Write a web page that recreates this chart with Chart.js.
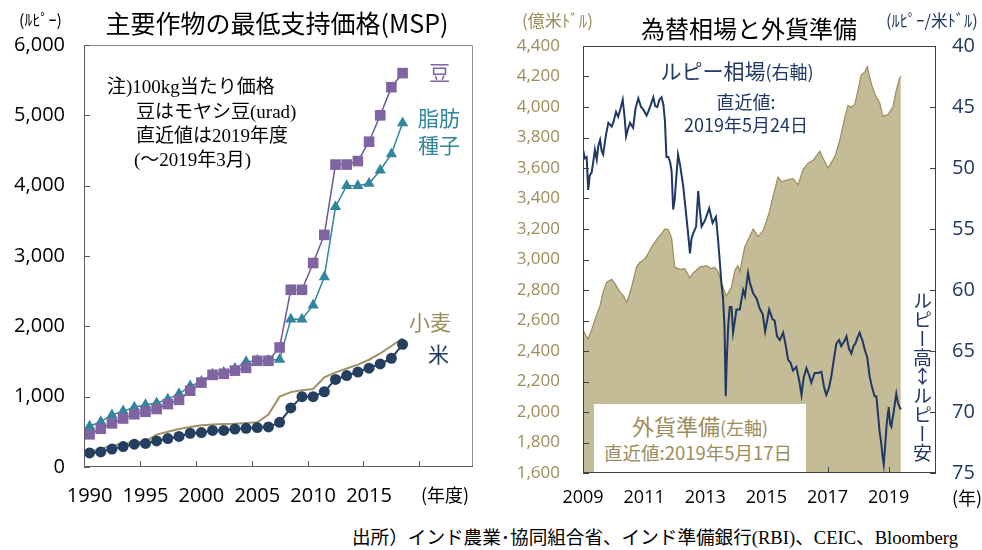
<!DOCTYPE html>
<html lang="ja">
<head>
<meta charset="utf-8">
<script src="https://cdn.jsdelivr.net/npm/chart.js@4/dist/chart.umd.min.js"></script>
<style>
  body { margin: 0; width: 982px; height: 550px; background: #fff; position: relative; overflow: hidden;
    font-family: 'Noto Sans CJK JP', sans-serif; }
  .box { position: absolute; }
  .t { position: absolute; white-space: nowrap; line-height: 1; }
  .c { transform: translateX(-50%); text-align: center; }
  .serif { font-family: 'Liberation Serif', 'Noto Sans CJK JP', serif; }
  .navy { color: #1f3864; }
  .tan { color: #9c8c5a; }
</style>
</head>
<body>
<div class="box" style="left:0;top:0;width:490px;height:520px"><canvas id="msp"></canvas></div>
<div class="box" style="left:490px;top:0;width:492px;height:520px"><canvas id="fx"></canvas></div>

<!-- 左パネル -->
<div class="t" style="left:19px;top:11px;font-size:16px">(ﾙﾋﾟｰ)</div>
<div class="t c" style="left:277px;top:10px;font-size:25px">主要作物の最低支持価格(MSP)</div>
<div class="t serif" style="left:107px;top:77px;font-size:19px">注)100kg当たり価格</div>
<div class="t serif" style="left:136px;top:102px;font-size:19px">豆はモヤシ豆(urad)</div>
<div class="t serif" style="left:136px;top:126px;font-size:19px">直近値は2019年度</div>
<div class="t serif" style="left:134px;top:150px;font-size:19px">(～2019年3月)</div>
<div class="t" style="left:429px;top:61px;font-size:21px;color:#8064a2">豆</div>
<div class="t" style="left:418px;top:104px;font-size:21px;line-height:27px;color:#31859c">脂肪<br>種子</div>
<div class="t" style="left:409px;top:311px;font-size:21px;color:#9c8c5a">小麦</div>
<div class="t" style="left:428px;top:343px;font-size:21px;color:#1f3864">米</div>
<div class="t" style="left:421px;top:485px;font-size:18px">(年度)</div>

<!-- 右パネル -->
<div class="t tan" style="left:522px;top:11px;font-size:17px">(億米ﾄﾞﾙ)</div>
<div class="t c" style="left:749px;top:16px;font-size:24px">為替相場と外貨準備</div>
<div class="t navy" style="left:886px;top:12px;font-size:16.5px">(ﾙﾋﾟｰ/米ﾄﾞﾙ)</div>
<div class="t c navy" style="left:737px;top:60px;font-size:21px">ルピー相場<span style="font-size:18px">(右軸)</span></div>
<div class="t c navy" style="left:746px;top:90px;font-size:18px;line-height:23px">直近値:<br>2019年5月24日</div>
<div class="t" style="left:594px;top:404px;width:212px;height:68px;background:#fff"></div>
<div class="t c tan" style="left:700px;top:414px;font-size:22px">外貨準備<span style="font-size:18px">(左軸)</span></div>
<div class="t c tan" style="left:698px;top:443px;font-size:18.5px">直近値:2019年5月17日</div>
<div class="t navy" style="left:913px;top:291px;font-size:19px;writing-mode:vertical-rl;text-orientation:upright;line-height:1">ルピー高↕ルピー安</div>
<div class="t" style="left:952px;top:488px;font-size:18px">(年)</div>

<div class="t serif" style="left:352px;top:529px;font-size:18.6px">出所）インド農業･協同組合省、インド準備銀行(RBI)、CEIC、Bloomberg</div>

<script>
// 主要作物の最低支持価格（ルピー/100kg）
const mspYears = [1990, 1991, 1992, 1993, 1994, 1995, 1996, 1997, 1998, 1999,
  2000, 2001, 2002, 2003, 2004, 2005, 2006, 2007, 2008, 2009,
  2010, 2011, 2012, 2013, 2014, 2015, 2016, 2017, 2018];
const bean = [465, 545, 620, 690, 750, 785, 825, 895, 955, 1085,
  1200, 1310, 1325, 1370, 1410, 1510, 1510, 1700, 2520, 2520,
  2900, 3300, 4300, 4300, 4350, 4625, 5000, 5400, 5600];
const oilseed = [580, 645, 740, 795, 850, 885, 910, 965, 1040, 1150,
  1215, 1320, 1345, 1400, 1495, 1515, 1515, 1530, 2100, 2100,
  2300, 2700, 3700, 4000, 4000, 4030, 4220, 4450, 4890];
const wheat = [215, 255, 305, 330, 350, 365, 460, 500, 540, 570,
  595, 605, 610, 615, 625, 635, 745, 1000, 1065, 1090,
  1110, 1275, 1345, 1400, 1455, 1525, 1615, 1720, 1830];
const rice = [200, 215, 255, 290, 325, 335, 370, 405, 435, 480,
  490, 520, 520, 540, 550, 560, 570, 635, 840, 1000,
  1000, 1070, 1245, 1300, 1350, 1405, 1465, 1545, 1745];
const mspYearLabels = [1990, 1995, 2000, 2005, 2010, 2015];
const mspYearMarks = [1994.5, 1999.5, 2004.5, 2009.5, 2014.5, 2019.5];

// 外貨準備（億米ドル、左軸）
const reserveDates = [2009.0, 2009.1, 2009.17, 2009.3, 2009.45, 2009.55, 2009.65, 2009.77, 2009.94, 2010.05,
  2010.2, 2010.33, 2010.43, 2010.55, 2010.64, 2010.75, 2010.86, 2011.0, 2011.08, 2011.24,
  2011.41, 2011.57, 2011.68, 2011.79, 2011.9, 2012.0, 2012.17, 2012.33, 2012.5, 2012.6,
  2012.82, 2013.04, 2013.2, 2013.31, 2013.42, 2013.58, 2013.69, 2013.86, 2013.97, 2014.07,
  2014.13, 2014.29, 2014.4, 2014.57, 2014.73, 2014.89, 2015.0, 2015.11, 2015.2, 2015.38,
  2015.5, 2015.66, 2015.87, 2016.04, 2016.2, 2016.36, 2016.53, 2016.75, 2016.85, 2017.02,
  2017.24, 2017.4, 2017.56, 2017.67, 2017.78, 2017.89, 2018.0, 2018.1, 2018.22, 2018.3,
  2018.43, 2018.54, 2018.71, 2018.81, 2018.98, 2019.14, 2019.25, 2019.36, 2019.4];
const reserves = [2540, 2500, 2480, 2550, 2640, 2690, 2780, 2850, 2870, 2840,
  2790, 2760, 2720, 2790, 2860, 2950, 2980, 3000, 3020, 3080,
  3130, 3170, 3200, 3195, 3140, 2950, 2935, 2940, 2880, 2910,
  2950, 2960, 2940, 2950, 2920, 2820, 2760, 2820, 2930, 2960,
  2920, 3080, 3130, 3200, 3150, 3190, 3250, 3320, 3400, 3540,
  3510, 3520, 3530, 3490, 3590, 3630, 3650, 3710, 3665, 3600,
  3675, 3780, 3925, 4010, 4000, 4015, 4110, 4210, 4230, 4265,
  4155, 4090, 4025, 3940, 3950, 4000, 4110, 4190, 4200];

// ルピー相場（ルピー/米ドル、右軸）
const rupeeDates = [2009.0, 2009.06, 2009.12, 2009.17, 2009.22, 2009.28, 2009.33, 2009.39, 2009.45, 2009.5,
  2009.56, 2009.61, 2009.66, 2009.75, 2009.83, 2009.94, 2010.0, 2010.08, 2010.15, 2010.22,
  2010.3, 2010.36, 2010.41, 2010.47, 2010.54, 2010.64, 2010.72, 2010.81, 2010.9, 2010.97,
  2011.08, 2011.15, 2011.22, 2011.3, 2011.36, 2011.43, 2011.5, 2011.57, 2011.63, 2011.68,
  2011.73, 2011.79, 2011.85, 2011.9, 2011.95, 2012.0, 2012.06, 2012.11, 2012.18, 2012.28,
  2012.35, 2012.44, 2012.5, 2012.55, 2012.6, 2012.7, 2012.77, 2012.82, 2012.88, 2012.99,
  2013.06, 2013.13, 2013.24, 2013.35, 2013.42, 2013.48, 2013.53, 2013.58, 2013.63, 2013.67,
  2013.7, 2013.75, 2013.8, 2013.86, 2013.91, 2013.97, 2014.02, 2014.13, 2014.24, 2014.3,
  2014.4, 2014.47, 2014.57, 2014.68, 2014.78, 2014.88, 2014.96, 2015.09, 2015.2, 2015.27,
  2015.35, 2015.44, 2015.55, 2015.63, 2015.71, 2015.8, 2015.87, 2015.98, 2016.08, 2016.15,
  2016.22, 2016.31, 2016.4, 2016.47, 2016.58, 2016.69, 2016.8, 2016.89, 2016.96, 2017.05,
  2017.13, 2017.2, 2017.29, 2017.38, 2017.45, 2017.55, 2017.62, 2017.7, 2017.78, 2017.85,
  2017.91, 2017.98, 2018.05, 2018.15, 2018.22, 2018.3, 2018.38, 2018.46, 2018.54, 2018.6,
  2018.65, 2018.7, 2018.76, 2018.8, 2018.84, 2018.88, 2018.93, 2018.98, 2019.0, 2019.05,
  2019.09, 2019.13, 2019.16, 2019.22, 2019.25, 2019.3, 2019.36, 2019.4];
const rupee = [48.5, 49.2, 49.1, 51.8, 50.6, 50.4, 49.6, 48.5, 49.3, 48.2,
  47.7, 48.6, 48.9, 47.3, 46.3, 46.6, 46.2, 45.4, 45.8, 45.2,
  44.4, 45.8, 47.4, 46.8, 46.3, 46.7, 45.1, 44.3, 45.0, 45.2,
  45.7, 45.3, 44.8, 44.2, 44.9, 45.0, 44.4, 44.2, 44.8, 46.1,
  49.1, 49.1, 49.5, 50.3, 53.4, 52.6, 50.5, 48.9, 49.8, 51.5,
  53.2, 55.4, 57.0, 55.8, 55.4, 54.8, 51.9, 53.4, 54.8, 54.3,
  53.8, 53.3, 54.5, 54.0, 55.9, 57.8, 59.5, 60.6, 63.0, 68.7,
  66.0, 63.0, 61.4, 61.4, 63.5, 62.5, 61.6, 61.6, 60.0, 60.5,
  58.6, 59.5, 60.3, 60.7, 61.5, 62.0, 63.4, 61.6, 62.4, 62.5,
  63.8, 64.1, 63.5, 64.5, 65.7, 66.0, 66.6, 66.3, 67.5, 68.6,
  67.2, 66.4, 67.0, 67.6, 66.8, 66.8, 66.7, 68.0, 68.6, 68.0,
  67.0, 65.8, 64.4, 64.1, 64.6, 64.2, 63.8, 64.8, 65.2, 64.6,
  64.4, 63.9, 63.5, 64.2, 64.9, 65.5, 67.1, 68.0, 68.7, 68.7,
  70.1, 71.5, 72.6, 73.6, 74.3, 73.0, 71.2, 70.0, 69.6, 71.0,
  71.2, 70.5, 70.1, 69.0, 68.5, 69.2, 69.6, 69.8];
const fxYearLabels = [2009, 2011, 2013, 2015, 2017, 2019];

Chart.defaults.font.family = "'Open Sans', 'Noto Sans CJK JP', sans-serif";
Chart.defaults.animation = false;

// 枠と内向きの目盛り
const frameTicks = {
  id: 'frameTicks',
  afterDatasetsDraw(chart, args, opts) {
    const { ctx, chartArea: a, scales } = chart;
    ctx.save();
    ctx.lineWidth = 1;
    ctx.strokeStyle = opts.frame;
    ctx.beginPath();
    ctx.moveTo(a.left, a.top + 0.5);
    ctx.lineTo(a.right - 0.5, a.top + 0.5);
    ctx.lineTo(a.right - 0.5, a.bottom);
    ctx.stroke();
    ctx.strokeStyle = opts.axis;
    ctx.beginPath();
    ctx.moveTo(a.left + 0.5, a.top);
    ctx.lineTo(a.left + 0.5, a.bottom - 0.5);
    ctx.lineTo(a.right, a.bottom - 0.5);
    const len = 6;
    (opts.xMarks || []).forEach((v) => {
      const px = Math.round(scales.x.getPixelForValue(v)) + 0.5;
      ctx.moveTo(px, a.bottom);
      ctx.lineTo(px, a.bottom - len);
    });
    scales.y.ticks.forEach((t) => {
      const py = Math.round(scales.y.getPixelForValue(t.value)) + 0.5;
      ctx.moveTo(a.left, py);
      ctx.lineTo(a.left + len, py);
    });
    if (scales.y2) {
      scales.y2.ticks.forEach((t) => {
        const py = Math.round(scales.y2.getPixelForValue(t.value)) + 0.5;
        ctx.moveTo(a.right, py);
        ctx.lineTo(a.right - len, py);
      });
    }
    ctx.stroke();
    ctx.restore();
  },
};

const toPoints = (xs, ys) => xs.map((x, i) => ({ x: x, y: ys[i] }));

new Chart(document.getElementById('msp'), {
  type: 'line',
  data: {
    datasets: [
      {
        label: '豆',
        data: toPoints(mspYears, bean),
        borderColor: '#6f569a',
        backgroundColor: '#8064a2',
        borderWidth: 1.5,
        pointStyle: 'rect',
        pointRadius: 7.5,
        pointBorderWidth: 0,
      },
      {
        label: '脂肪種子',
        data: toPoints(mspYears, oilseed),
        borderColor: '#31859c',
        backgroundColor: '#31859c',
        borderWidth: 1.5,
        pointStyle: 'triangle',
        pointRadius: 6.5,
        pointBorderWidth: 0,
      },
      {
        label: '米',
        data: toPoints(mspYears, rice),
        borderColor: '#243f60',
        backgroundColor: '#243f60',
        borderWidth: 2,
        pointStyle: 'circle',
        pointRadius: 5.5,
        pointBorderWidth: 0,
      },
      {
        label: '小麦',
        data: toPoints(mspYears, wheat),
        borderColor: '#a09266',
        borderWidth: 2,
        pointRadius: 0,
      },
    ],
  },
  options: {
    responsive: true,
    maintainAspectRatio: false,
    layout: { padding: { left: 0, right: 17, top: 45, bottom: 13 } },
    scales: {
      x: {
        type: 'linear',
        min: 1989.5,
        max: 2024.3,
        afterBuildTicks: (scale) => {
          scale.ticks = mspYearLabels.map((v) => ({ value: v }));
        },
        afterFit: (scale) => { scale.height = 40; },
        grid: { display: false, drawTicks: false },
        border: { display: false },
        ticks: { color: '#000', font: { size: 20 }, padding: 17, maxRotation: 0, callback: (v) => String(v) },
      },
      y: {
        min: 0,
        max: 6000,
        afterFit: (scale) => { scale.width = 84; },
        grid: { display: false, drawTicks: false },
        border: { display: false },
        ticks: { stepSize: 1000, color: '#000', font: { size: 20 }, padding: 19,
          callback: (v) => v.toLocaleString('en-US') },
      },
    },
    plugins: {
      legend: { display: false },
      tooltip: { enabled: false },
      frameTicks: { frame: '#8c8c8c', axis: '#595959', xMarks: mspYearMarks },
    },
  },
  plugins: [frameTicks],
});

new Chart(document.getElementById('fx'), {
  type: 'line',
  data: {
    datasets: [
      {
        label: 'ルピー相場(右軸)',
        data: toPoints(rupeeDates, rupee),
        yAxisID: 'y2',
        borderColor: '#1f3864',
        borderWidth: 2,
        pointRadius: 0,
      },
      {
        label: '外貨準備(左軸)',
        data: toPoints(reserveDates, reserves),
        yAxisID: 'y',
        borderColor: '#9c8c5a',
        backgroundColor: '#c4bb97',
        borderWidth: 1.2,
        pointRadius: 0,
        fill: 'start',
      },
    ],
  },
  options: {
    responsive: true,
    maintainAspectRatio: false,
    layout: { padding: { left: 0, right: 0, top: 46, bottom: 7 } },
    scales: {
      x: {
        type: 'linear',
        min: 2009,
        max: 2020.55,
        afterBuildTicks: (scale) => {
          scale.ticks = fxYearLabels.map((v) => ({ value: v }));
        },
        afterFit: (scale) => { scale.height = 40; },
        grid: { display: false, drawTicks: false },
        border: { display: false },
        ticks: { color: '#000', font: { size: 18 }, padding: 14, maxRotation: 0, callback: (v) => String(v) },
      },
      y: {
        position: 'left',
        min: 1600,
        max: 4400,
        afterFit: (scale) => { scale.width = 93; },
        grid: { display: false, drawTicks: false },
        border: { display: false },
        ticks: { stepSize: 200, color: '#9c8c5a', font: { size: 17 }, padding: 23,
          callback: (v) => v.toLocaleString('en-US') },
      },
      y2: {
        position: 'right',
        reverse: true,
        min: 40,
        max: 75,
        afterFit: (scale) => { scale.width = 46; },
        grid: { display: false, drawTicks: false },
        border: { display: false },
        ticks: { stepSize: 5, color: '#1f3864', font: { size: 20 }, padding: 16 },
      },
    },
    plugins: {
      legend: { display: false },
      tooltip: { enabled: false },
      frameTicks: { frame: '#404040', axis: '#404040', xMarks: fxYearLabels.slice(1) },
    },
  },
  plugins: [frameTicks],
});
</script>
</body>
</html>
